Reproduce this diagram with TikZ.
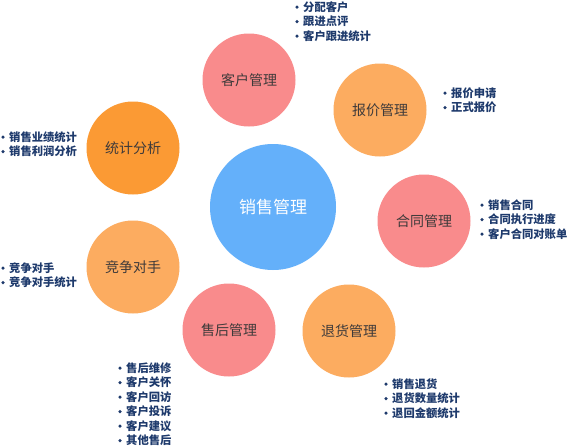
\documentclass[tikz,border=0pt]{standalone}
\usepackage{fontspec}
\setmainfont{Noto Sans CJK SC}
\definecolor{cpink}{RGB}{249,139,140}
\definecolor{clorange}{RGB}{252,172,96}
\definecolor{corange}{RGB}{251,154,52}
\definecolor{cblue}{RGB}{100,176,250}
\definecolor{cnavy}{RGB}{30,58,108}
\definecolor{clabel}{RGB}{62,58,58}
\tikzset{
  topic/.style={circle, minimum size=93pt, inner sep=0pt, font=\fontsize{14}{16}\selectfont, text=clabel},
  hub/.style={circle, minimum size=126pt, inner sep=0pt, fill=cblue, font=\fontsize{17}{19}\selectfont, text=white},
  item/.style={anchor=base west, inner sep=0pt, font=\bfseries\fontsize{11.3}{12}\selectfont, text=cnavy},
  dot/.style={fill=cnavy}
}
\newcommand\bulletlist[4]{% name, text x, first baseline y, list
  \foreach \t [count=\i] in {#4}{
    \node[item, name=#1\i] at (#2, #3+\i*14.5-14.5) {\t};
    \fill[dot] ([shift={(-6,-3.9)}]#1\i.base west) circle (1.75);
  }
}
\begin{document}
\begin{tikzpicture}[x=1pt,y=-1pt]
\useasboundingbox (0,0) rectangle (570,447);
\fill[white] (0,0) rectangle (570,447);
\node[hub] (hub) at (273,207) {销售管理};
\node[topic, fill=cpink] (kehu) at (249,80) {客户管理};
\node[topic, fill=clorange] (baojia) at (380,110) {报价管理};
\node[topic, fill=cpink] (hetong) at (424,221) {合同管理};
\node[topic, fill=clorange] (tuihuo) at (349,331) {退货管理};
\node[topic, fill=cpink] (shouhou) at (229,330) {售后管理};
\node[topic, fill=clorange] (jingzheng) at (133,267) {竞争对手};
\node[topic, fill=corange] (tongji) at (133,148) {统计分析};
\bulletlist{a}{303}{11}{分配客户,跟进点评,客户跟进统计}
\bulletlist{b}{451}{97}{报价申请,正式报价}
\bulletlist{c}{488}{209}{销售合同,合同执行进度,客户合同对账单}
\bulletlist{d}{9}{141}{销售业绩统计,销售利润分析}
\bulletlist{e}{9}{272}{竞争对手,竞争对手统计}
\bulletlist{f}{126}{372}{售后维修,客户关怀,客户回访,客户投诉,客户建议,其他售后}
\bulletlist{g}{392}{388}{销售退货,退货数量统计,退回金额统计}
\end{tikzpicture}
\end{document}
